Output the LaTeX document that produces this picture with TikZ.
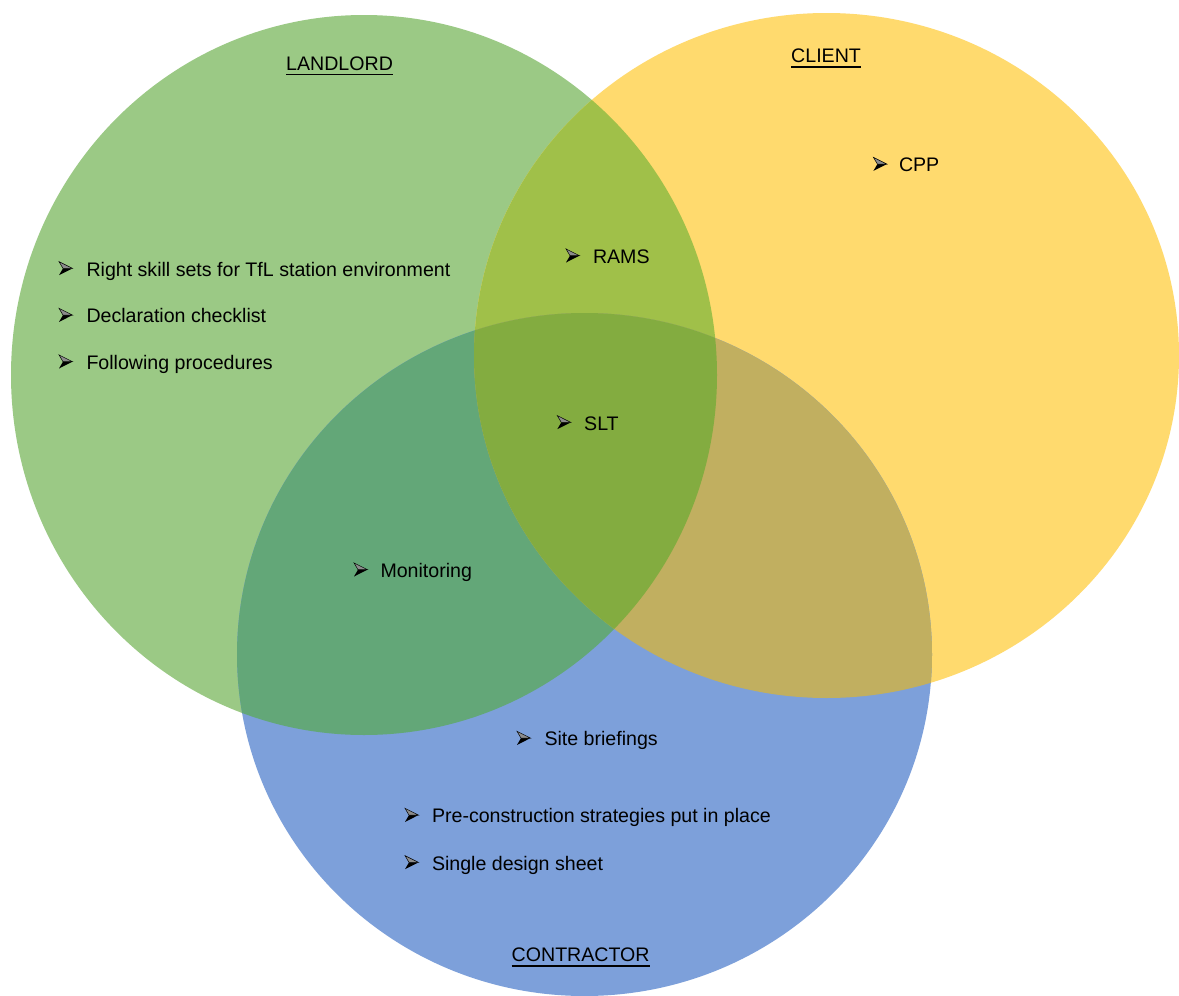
\documentclass[tikz,border=0pt]{standalone}
\usepackage{fontspec}
\setmainfont{Liberation Sans}
\definecolor{landlordC}{HTML}{9BC985}
\definecolor{clientC}{HTML}{FFDA6E}
\definecolor{contractorC}{HTML}{7DA0DA}
\definecolor{lcC}{HTML}{A0C049}
\definecolor{lkC}{HTML}{63A778}
\definecolor{ckC}{HTML}{C1AF60}
\definecolor{allC}{HTML}{83AC40}
\tikzset{
  item/.style={anchor=base west, inner sep=0pt, font=\fontsize{19.6}{23}\selectfont},
  heading/.style={item},
  uline/.style={line width=1.3pt},
  bullet/.pic={
    \fill[black] (4,0) -- (13.5,0) -- (0,6.8) -- cycle;
    \filldraw[fill=black!45, draw=black, line width=0.5pt, line join=miter] (0,-6.8) -- (13.5,0) -- (4,0) -- cycle;
  }
}
\newcommand\landlordShape{(364,375) ellipse [x radius=353pt, y radius=360pt]}
\newcommand\clientShape{(826.5,355.5) ellipse [x radius=352.5pt, y radius=342.5pt]}
\newcommand\contractorShape{(584.5,654.5) ellipse [x radius=347.5pt, y radius=341.5pt]}
\newcommand\bulletitem[5]{% name, bullet x, baseline y, text x, text
  \pic at (#2,#3-7.6) {bullet};
  \node[item] (#1) at (#4,#3) {#5};
}
\newcommand\headline[4]{% name, x, baseline y, text
  \node[heading] (#1) at (#2,#3) {#4};
  \draw[uline] ([yshift=-4.2pt]#1.base west) -- ([yshift=-4.2pt]#1.base east);
}
\begin{document}
\begin{tikzpicture}[x=1pt,y=-1pt]
\useasboundingbox (0,0) rectangle (1179,996);
\fill[white] (0,0) rectangle (1179,996);

% the three sets
\fill[landlordC] \landlordShape;
\fill[clientC] \clientShape;
\fill[contractorC] \contractorShape;

% pairwise overlaps
\begin{scope}
  \clip \landlordShape;
  \fill[lcC] \clientShape;
  \fill[lkC] \contractorShape;
\end{scope}
\begin{scope}
  \clip \clientShape;
  \fill[ckC] \contractorShape;
\end{scope}
% common overlap
\begin{scope}
  \clip \landlordShape;
  \clip \clientShape;
  \fill[allC] \contractorShape;
\end{scope}

% headings
\headline{landlord}{286}{70}{LANDLORD}
\headline{client}{791}{62.7}{CLIENT}
\headline{contractor}{511.5}{961.7}{CONTRACTOR}

% items
\bulletitem{skills}{59}{276}{86.3}{Right skill sets for TfL station environment}
\bulletitem{declaration}{59}{322.7}{86.3}{Declaration checklist}
\bulletitem{procedures}{59}{369.3}{86.3}{Following procedures}
\bulletitem{rams}{566}{263.3}{592.8}{RAMS}
\bulletitem{cpp}{873.4}{171.7}{898.8}{CPP}
\bulletitem{slt}{557.3}{430}{584}{SLT}
\bulletitem{monitoring}{354}{577.3}{380.3}{Monitoring}
\bulletitem{briefings}{517}{745.7}{544.3}{Site briefings}
\bulletitem{precon}{405}{822.7}{431.8}{Pre-construction strategies put in place}
\bulletitem{design}{405}{870}{431.8}{Single design sheet}
\end{tikzpicture}
\end{document}
